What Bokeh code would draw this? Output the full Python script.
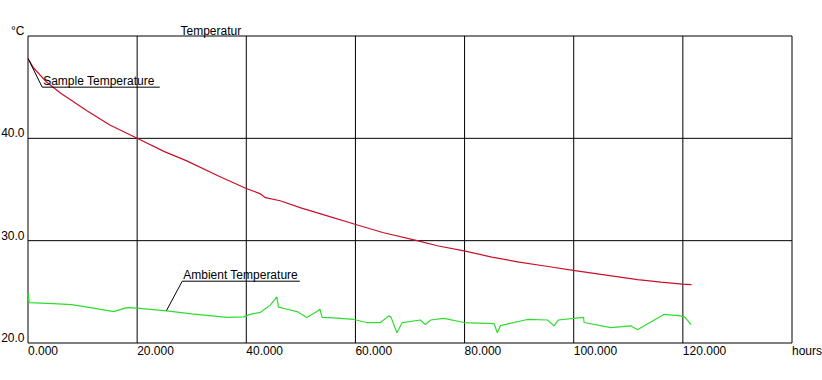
from bokeh.plotting import figure
from bokeh.models import Range1d
from bokeh.core.properties import value
from bokeh.embed import file_html
from bokeh.resources import INLINE

# ---- data ----
sample_x = [0, 1, 3.4, 6, 10.8, 15, 20, 25, 29.1, 35, 40, 42.5, 43.5, 46.2, 50, 55,
            59.9, 65, 71.3, 75, 79.9, 85, 90, 95, 99.9, 105, 111.7, 116, 119.9, 121.6]
sample_y = [47.8, 46.9, 45.5, 44.4, 42.7, 41.3, 40.0, 38.7, 37.8, 36.3, 35.1, 34.6, 34.2, 33.9,
            33.2, 32.4, 31.6, 30.8, 30.0, 29.5, 29.0, 28.4, 27.9, 27.5, 27.1, 26.7, 26.2, 25.95,
            25.75, 25.7]

ambient_x = [0, 0.2, 4.6, 8, 12, 15.7, 18.1, 20, 25.4, 30, 36.5, 39.5, 40.7, 42.6, 44.4, 45.6,
             45.9, 47.5, 49.3, 51.1, 53, 53.5, 53.9, 56, 59.7, 62.1, 64.6, 66.1, 66.5, 67.6,
             68.6, 71.9, 72.8, 73.8, 76.2, 79.9, 85.4, 86.0, 86.6, 91.5, 95.2, 96.4, 97.2, 100,
             101.8, 101.9, 106.8, 110.5, 111.7, 112.3, 116.6, 119.6, 120.4, 121.5]
ambient_y = [24.9, 23.95, 23.85, 23.75, 23.4, 23.07, 23.46, 23.4, 23.14, 22.85, 22.5, 22.55,
             22.8, 23.0, 23.7, 24.5, 23.5, 23.3, 23.07, 22.5, 23.1, 23.3, 22.5, 22.45, 22.3,
             22.0, 22.0, 22.65, 22.55, 21.0, 22.0, 22.25, 21.8, 22.25, 22.4, 22.0, 21.9, 21.0,
             21.7, 22.3, 22.25, 21.67, 22.25, 22.4, 22.5, 22.0, 21.5, 21.67, 21.3, 21.5, 22.8,
             22.65, 22.5, 21.8]

x_ticks = [0, 20, 40, 60, 80, 100, 120]
x_tick_labels = ["0.000", "20.000", "40.000", "60.000", "80.000", "100.000", "120.000"]
y_ticks = [20, 30, 40]
y_tick_labels = ["20.0", "30.0", "40.0"]
x_min, x_max = 0, 140
y_min, y_max = 20, 50
x_unit = "hours"
y_unit = "°C"
chart_title = "Temperatur"
series_names = ["Sample Temperature", "Ambient Temperature"]

FONT = value("Liberation Sans")
FS = value("12px")

# ---- layout: plot box occupies canvas pixels L..R, T..B ----
W, H = 822, 380
L, R, T, B = 27.5, 791.5, 35.5, 342.5
sx = (R - L) / (x_max - x_min)
sy = (B - T) / (y_max - y_min)
xr = Range1d(x_min - L / sx, x_max + (W - R) / sx)
yr = Range1d(y_min - (H - B) / sy, y_max + T / sy)

p = figure(width=W, height=H, output_backend="svg", toolbar_location=None,
           x_range=xr, y_range=yr, x_axis_type=None, y_axis_type=None,
           min_border=0, min_border_left=0, min_border_right=0, min_border_top=0,
           min_border_bottom=0, background_fill_color="white", border_fill_color="white")
p.outline_line_color = None
p.grid.visible = False

# grid lines
p.segment(x0=x_ticks[1:], y0=[y_min] * (len(x_ticks) - 1), x1=x_ticks[1:],
          y1=[y_max] * (len(x_ticks) - 1), line_color="black", line_width=1)
p.segment(x0=[x_min] * (len(y_ticks) - 1), y0=y_ticks[1:], x1=[x_max] * (len(y_ticks) - 1),
          y1=y_ticks[1:], line_color="black", line_width=1)
# plot box
p.quad(left=[x_min], right=[x_max], bottom=[y_min], top=[y_max], fill_color=None,
       line_color="black", line_width=1)

# tick labels
p.text(x=x_ticks + [x_max], y=[y_min] * (len(x_ticks) + 1), text=x_tick_labels + [x_unit],
       text_font=FONT, text_font_size=FS, text_color="black", text_align="left",
       text_baseline="alphabetic", x_offset=0, y_offset=7.5)
p.text(x=[x_min] * (len(y_ticks) + 1), y=y_ticks + [y_max], text=y_tick_labels + [y_unit],
       text_font=FONT, text_font_size=FS, text_color="black", text_align="right",
       text_baseline="alphabetic", x_offset=-3.5, y_offset=-5.5)
p.text(x=[27.95], y=[y_max], text=[chart_title], text_font=FONT, text_font_size=FS,
       text_color="black", text_align="left", text_baseline="alphabetic", y_offset=-5.5)

# series
p.line(sample_x, sample_y, line_color="#c8102a", line_width=1.2)
p.line(ambient_x, ambient_y, line_color="#2ddd2d", line_width=1.2)

# series labels with leader lines and underline
s_anchor = (sample_x[0], sample_y[0])
s_lab = (2.6, 45.0)
s_end = 24.15
p.line([s_anchor[0], s_lab[0], s_end], [s_anchor[1], s_lab[1], s_lab[1]],
       line_color="black", line_width=1)
a_anchor = (25.38, 23.17)
a_lab = (28.26, 26.04)
a_end = 49.81
p.line([a_anchor[0], a_lab[0], a_end], [a_anchor[1], a_lab[1], a_lab[1]],
       line_color="black", line_width=1)
p.text(x=[s_lab[0], a_lab[0]], y=[s_lab[1], a_lab[1]], text=series_names,
       text_font=FONT, text_font_size=FS, text_color="black", text_align="left",
       text_baseline="alphabetic", x_offset=1, y_offset=-6.5)

open("out.html", "w").write(file_html(p, INLINE))
